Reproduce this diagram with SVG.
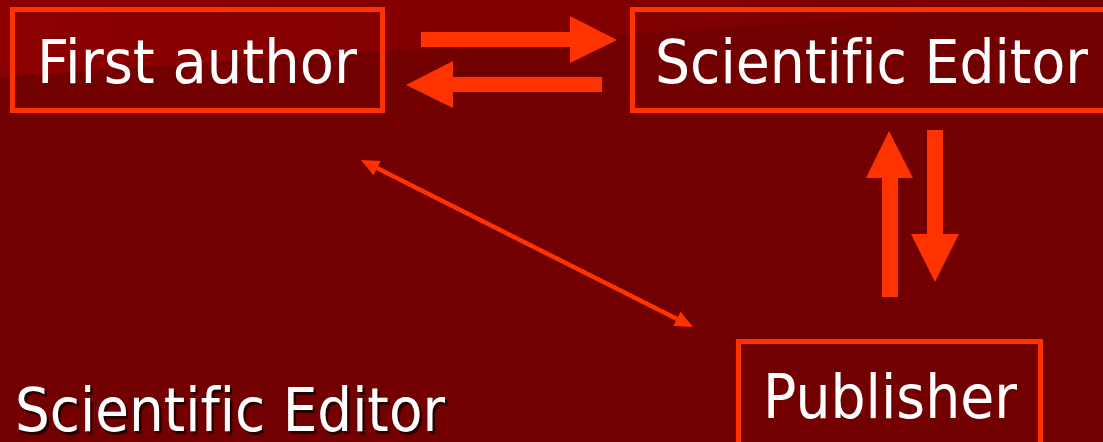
<svg xmlns="http://www.w3.org/2000/svg" width="1103" height="442" viewBox="0 0 1103 442">
  <style>
    .box { fill: none; stroke: #ff3300; stroke-width: 5; }
    .lbl { font-family: "DejaVu Sans", Verdana, sans-serif; font-size: 60px; fill: #ffffff; font-variant-ligatures: none; font-feature-settings: "liga" 0, "clig" 0; }
    .shadow { fill: #2a0000; }
    .arrow { fill: #ff3300; }
  </style>
  <defs>
    <linearGradient id="bgTop" x1="0" y1="0" x2="1" y2="0">
      <stop offset="0" stop-color="#8c0000"/>
      <stop offset="0.6" stop-color="#800000"/>
      <stop offset="1" stop-color="#740000"/>
    </linearGradient>
  </defs>
  <rect x="0" y="0" width="1103" height="442" fill="#730000"/>
  <polygon points="0,0 1103,0 1103,2 0,77" fill="url(#bgTop)"/>

  <g id="connectors">
    <polygon class="arrow" points="421,32 570,32 570,16 617,40 570,63 570,47 421,47"/>
    <polygon class="arrow" points="602,77 453,77 453,61 406,85 453,108 453,92 602,92"/>
    <polygon class="arrow" points="882,297 882,178 866,178 889,131 913,178 898,178 898,297"/>
    <polygon class="arrow" points="927,130 943,130 943,234 959,234 935,282 911,234 927,234"/>
    <line x1="377" y1="168" x2="677" y2="319" stroke="#ff3300" stroke-width="4.5"/>
    <polygon class="arrow" points="361,160 380.7,161 373.5,175.2"/>
    <polygon class="arrow" points="693,327 673.3,326 680.5,311.8"/>
  </g>

  <g id="first-author">
    <rect class="box" x="12.5" y="9.5" width="370" height="101"/>
    <text class="lbl" x="37" y="83" textLength="320" lengthAdjust="spacingAndGlyphs">First author</text>
  </g>

  <g id="scientific-editor">
    <rect class="box" x="632.5" y="9.5" width="480" height="101"/>
    <text class="lbl" x="655" y="83" textLength="433" lengthAdjust="spacingAndGlyphs">Scientific Editor</text>
  </g>

  <g id="publisher">
    <rect class="box" x="738.5" y="341.5" width="302" height="120"/>
    <text class="lbl" x="763" y="418" textLength="254" lengthAdjust="spacingAndGlyphs">Publisher</text>
  </g>

  <g id="caption">
    <text class="lbl shadow" x="17.5" y="433.5" textLength="430" lengthAdjust="spacingAndGlyphs">Scientific Editor</text>
    <text class="lbl" x="15" y="431" textLength="430" lengthAdjust="spacingAndGlyphs">Scientific Editor</text>
  </g>
</svg>
